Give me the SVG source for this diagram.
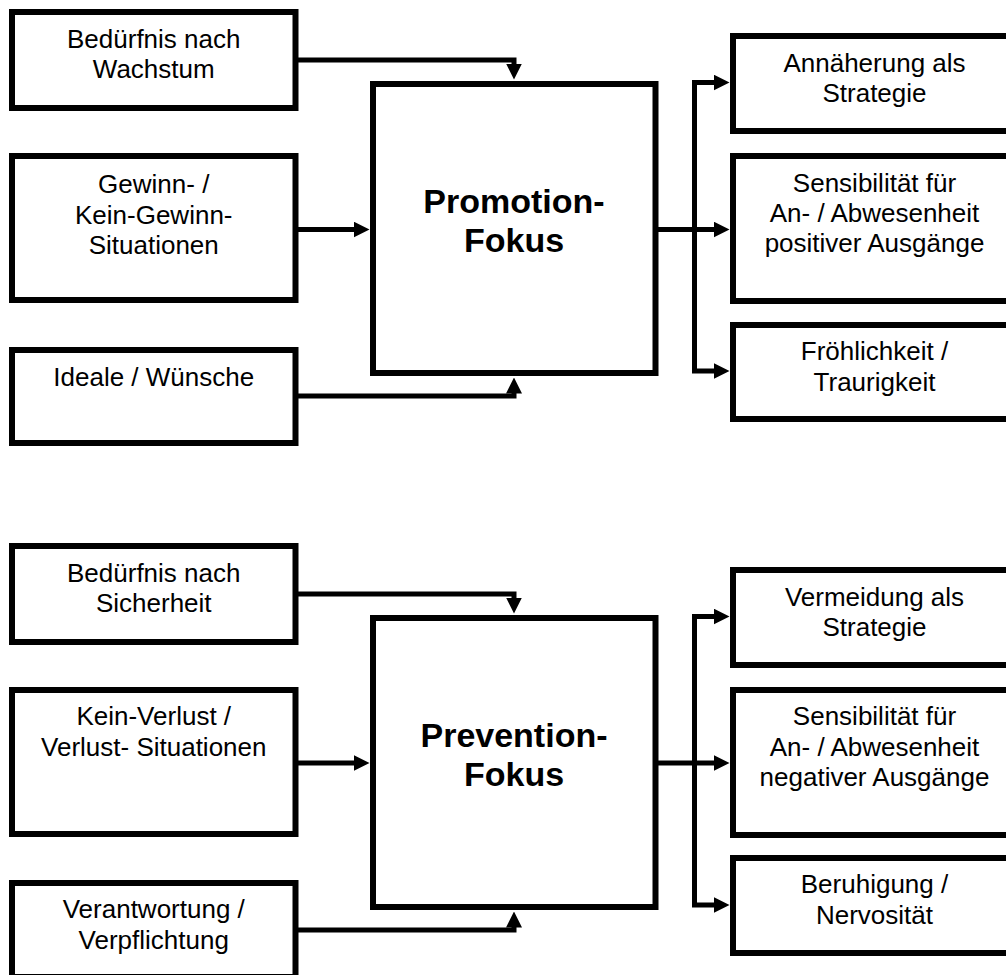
<svg xmlns="http://www.w3.org/2000/svg" width="1006" height="975" viewBox="0 0 1006 975">
  <style>
    .box { fill: #ffffff; stroke: #000000; stroke-width: 6; }
    .lbl { font-family: "Liberation Sans", Arial, sans-serif; font-size: 26px; fill: #000000; text-anchor: middle; }
    .focus { font-family: "Liberation Sans", Arial, sans-serif; font-size: 34px; font-weight: bold; fill: #000000; text-anchor: middle; }
    .wire { fill: none; stroke: #000000; stroke-width: 5; stroke-linejoin: miter; marker-end: url(#head); }
    .bus { fill: none; stroke: #000000; stroke-width: 5; }
  </style>
  <defs>
    <marker id="head" viewBox="0 0 16 16" refX="0.5" refY="8" markerWidth="16" markerHeight="16" markerUnits="userSpaceOnUse" orient="auto">
      <path d="M0,0 L16,8 L0,16 Z" fill="#000000"/>
    </marker>
  </defs>
  <rect width="1006" height="975" fill="#ffffff"/>

  <!-- connectors -->
  <g id="connectors">
    <!-- promotion inputs -->
    <path class="wire" d="M296,60 H514 V64"/>
    <path class="wire" d="M296,229.5 H354"/>
    <path class="wire" d="M296,396 H514 V393"/>
    <!-- promotion outputs -->
    <path class="wire" d="M658,229.5 H714"/>
    <path class="wire" d="M694.5,229.5 V82.5 H714"/>
    <path class="wire" d="M694.5,229.5 V371 H714"/>
    <!-- prevention inputs -->
    <path class="wire" d="M296,594 H514 V598"/>
    <path class="wire" d="M296,763 H354"/>
    <path class="wire" d="M296,930 H514 V927"/>
    <!-- prevention outputs -->
    <path class="wire" d="M658,763 H714"/>
    <path class="wire" d="M694.5,763 V616.5 H714"/>
    <path class="wire" d="M694.5,763 V905 H714"/>
  </g>

  <!-- promotion block -->
  <g id="need-growth">
    <rect class="box" x="12" y="12" width="283.5" height="96"/>
    <text class="lbl" x="153.75" y="48">Bedürfnis nach</text>
    <text class="lbl" x="153.75" y="78">Wachstum</text>
  </g>
  <g id="gain-situations">
    <rect class="box" x="12" y="156" width="283.5" height="144"/>
    <text class="lbl" x="153.75" y="193">Gewinn- /</text>
    <text class="lbl" x="153.75" y="223.5">Kein-Gewinn-</text>
    <text class="lbl" x="153.75" y="254">Situationen</text>
  </g>
  <g id="ideals">
    <rect class="box" x="12" y="350" width="283.5" height="93"/>
    <text class="lbl" x="153.75" y="386">Ideale / Wünsche</text>
  </g>
  <g id="promotion-focus">
    <rect class="box" x="373" y="84" width="282.5" height="289"/>
    <text class="focus" x="514" y="213">Promotion-</text>
    <text class="focus" x="514" y="252">Fokus</text>
  </g>
  <g id="approach">
    <rect class="box" x="733" y="36" width="283" height="95"/>
    <text class="lbl" x="874.5" y="72">Annäherung als</text>
    <text class="lbl" x="874.5" y="101.5">Strategie</text>
  </g>
  <g id="positive-outcomes">
    <rect class="box" x="733" y="156" width="283" height="145"/>
    <text class="lbl" x="874.5" y="192">Sensibilität für</text>
    <text class="lbl" x="874.5" y="222">An- / Abwesenheit</text>
    <text class="lbl" x="874.5" y="252">positiver Ausgänge</text>
  </g>
  <g id="cheerfulness">
    <rect class="box" x="733" y="325" width="283" height="94"/>
    <text class="lbl" x="874.5" y="360">Fröhlichkeit /</text>
    <text class="lbl" x="874.5" y="390.5">Traurigkeit</text>
  </g>

  <!-- prevention block -->
  <g id="need-security">
    <rect class="box" x="12" y="546" width="283.5" height="96"/>
    <text class="lbl" x="153.75" y="582">Bedürfnis nach</text>
    <text class="lbl" x="153.75" y="612">Sicherheit</text>
  </g>
  <g id="loss-situations">
    <rect class="box" x="12" y="690" width="283.5" height="144"/>
    <text class="lbl" x="153.75" y="725">Kein-Verlust /</text>
    <text class="lbl" x="153.75" y="756">Verlust- Situationen</text>
  </g>
  <g id="duties">
    <rect class="box" x="12" y="883" width="283.5" height="94"/>
    <text class="lbl" x="153.75" y="918">Verantwortung /</text>
    <text class="lbl" x="153.75" y="949">Verpflichtung</text>
  </g>
  <g id="prevention-focus">
    <rect class="box" x="373" y="618" width="282.5" height="289"/>
    <text class="focus" x="514" y="747">Prevention-</text>
    <text class="focus" x="514" y="786">Fokus</text>
  </g>
  <g id="avoidance">
    <rect class="box" x="733" y="570" width="283" height="95"/>
    <text class="lbl" x="874.5" y="606">Vermeidung als</text>
    <text class="lbl" x="874.5" y="635.5">Strategie</text>
  </g>
  <g id="negative-outcomes">
    <rect class="box" x="733" y="690" width="283" height="145"/>
    <text class="lbl" x="874.5" y="725">Sensibilität für</text>
    <text class="lbl" x="874.5" y="756">An- / Abwesenheit</text>
    <text class="lbl" x="874.5" y="786">negativer Ausgänge</text>
  </g>
  <g id="calmness">
    <rect class="box" x="733" y="858" width="283" height="95"/>
    <text class="lbl" x="874.5" y="893">Beruhigung /</text>
    <text class="lbl" x="874.5" y="924">Nervosität</text>
  </g>
</svg>
